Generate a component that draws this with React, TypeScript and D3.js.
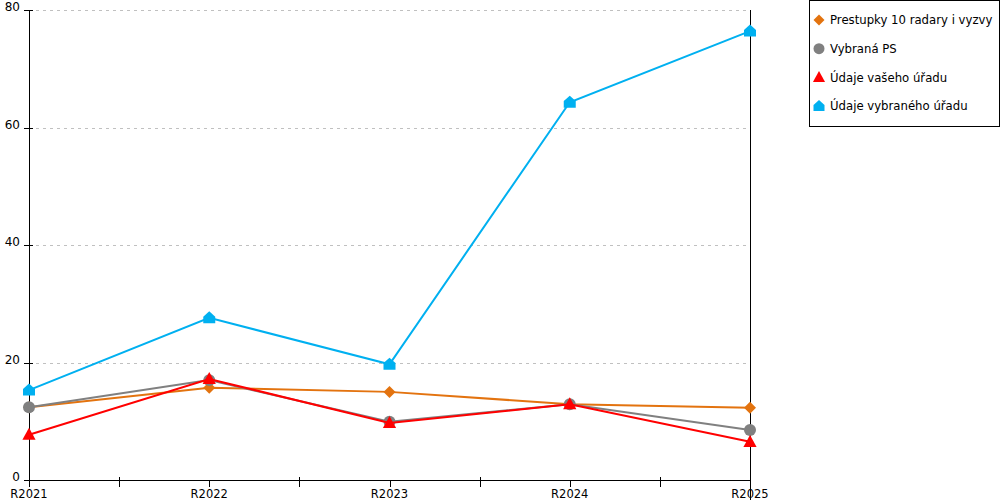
import * as React from 'react';
import * as d3 from 'd3';

const categories: string[] = ['R2021', 'R2022', 'R2023', 'R2024', 'R2025'];
const yTicks: number[] = [0, 20, 40, 60, 80];

const prestupky: number[] = [12.4, 15.7, 15.0, 12.9, 12.3];
const vybranaPS: number[] = [12.4, 17.0, 9.9, 12.9, 8.5];
const vasUrad: number[] = [7.7, 17.2, 9.7, 12.9, 6.5];
const vybranyUrad: number[] = [15.3, 27.6, 19.7, 64.3, 76.4];

const seriesNames: string[] = [
	'Prestupky 10 radary i vyzvy',
	'Vybraná PS',
	'Údaje vašeho úřadu',
	'Údaje vybraného úřadu'
];
const seriesColors: string[] = ['#e3730f', '#808080', '#ff0000', '#00b0f0'];
const seriesShapes: string[] = ['diamond', 'circle', 'triangle', 'house'];

const font = 'DejaVu Sans, Verdana, sans-serif';

function markerPath(shape: string, r: number): string {
	if (shape === 'diamond') {
		return `M0,${-r}L${r},0L0,${r}L${-r},0Z`;
	}
	if (shape === 'circle') {
		return `M${-r},0A${r},${r} 0 1,0 ${r},0A${r},${r} 0 1,0 ${-r},0Z`;
	}
	if (shape === 'triangle') {
		return `M0,${-r * 1.15}L${r * 1.1},${r * 0.85}L${-r * 1.1},${r * 0.85}Z`;
	}
	// house / pentagon
	return `M0,${-r * 1.1}L${r},${-r * 0.2}L${r},${r * 0.9}L${-r},${r * 0.9}L${-r},${-r * 0.2}Z`;
}

export default function App() {
	const left = 29;
	const right = 750;
	const top = 10;
	const bottom = 480;

	const x = d3.scalePoint<string>().domain(categories).range([left, right]);
	const y = d3.scaleLinear().domain([0, 80]).range([bottom, top]);

	const allSeries = [prestupky, vybranaPS, vasUrad, vybranyUrad];

	const line = d3
		.line<number>()
		.x((d, i) => x(categories[i]) as number)
		.y((d) => y(d));

	const step = x.step();
	const minorTicks = categories.slice(0, -1).map((c) => (x(c) as number) + step / 2);
	const px = (v: number) => Math.round(v) + 0.5;

	return (
		<svg width={1000} height={500} style={{ position: 'absolute', left: 0, top: 0 }}>
			<rect x={0} y={0} width={1000} height={500} fill="#ffffff" />
			{/* grid */}
			{yTicks.slice(1).map((t) => (
				<line
					key={'g' + t}
					x1={left}
					x2={right}
					y1={px(y(t))}
					y2={px(y(t))}
					stroke="#c0c0c0"
					strokeDasharray="3,4"
				/>
			))}
			{/* y axis */}
			<line x1={px(left)} x2={px(left)} y1={top} y2={bottom} stroke="#000" />
			{yTicks.map((t) => (
				<g key={'y' + t}>
					<line x1={left - 5} x2={left + 4} y1={px(y(t))} y2={px(y(t))} stroke="#000" />
					<text
						x={left - 9}
						y={y(t)}
						dy="0.1em"
						textAnchor="end"
						fontFamily={font}
						fontSize={12}
						fill="#000"
					>
						{t}
					</text>
				</g>
			))}
			{/* right line */}
			<line x1={px(right)} x2={px(right)} y1={top} y2={500} stroke="#000" />
			{/* x axis */}
			<line x1={left} x2={right} y1={px(bottom)} y2={px(bottom)} stroke="#000" />
			{categories.map((c) => (
				<g key={c}>
					<line x1={px(x(c) as number)} x2={px(x(c) as number)} y1={bottom} y2={bottom + 7} stroke="#000" />
					<text
						x={x(c)}
						y={bottom + 18}
						textAnchor="middle"
						fontFamily={font}
						fontSize={11.5}
						fill="#000"
					>
						{c}
					</text>
				</g>
			))}
			{minorTicks.map((m, i) => (
				<line key={'m' + i} x1={px(m)} x2={px(m)} y1={bottom - 3} y2={bottom + 7} stroke="#000" />
			))}
			{/* series */}
			{allSeries.map((s, si) => (
				<g key={'s' + si}>
					<path d={line(s) as string} fill="none" stroke={seriesColors[si]} strokeWidth={2} />
					{s.map((v, i) => (
						<path
							key={i}
							transform={`translate(${x(categories[i])},${y(v)})`}
							d={markerPath(seriesShapes[si], 6)}
							fill={seriesColors[si]}
						/>
					))}
				</g>
			))}
			{/* legend */}
			<rect x={809.5} y={0.5} width={190} height={126} fill="#fff" stroke="#000" />
			{seriesNames.map((n, i) => (
				<g key={'l' + i} transform={`translate(0,${20 + i * 28.7})`}>
					<path
						transform="translate(819,0)"
						d={markerPath(seriesShapes[i], 5.5)}
						fill={seriesColors[i]}
					/>
					<text x={830} y={0} dy="0.35em" fontFamily={font} fontSize={11.7} fill="#000">
						{n}
					</text>
				</g>
			))}
		</svg>
	);
}
